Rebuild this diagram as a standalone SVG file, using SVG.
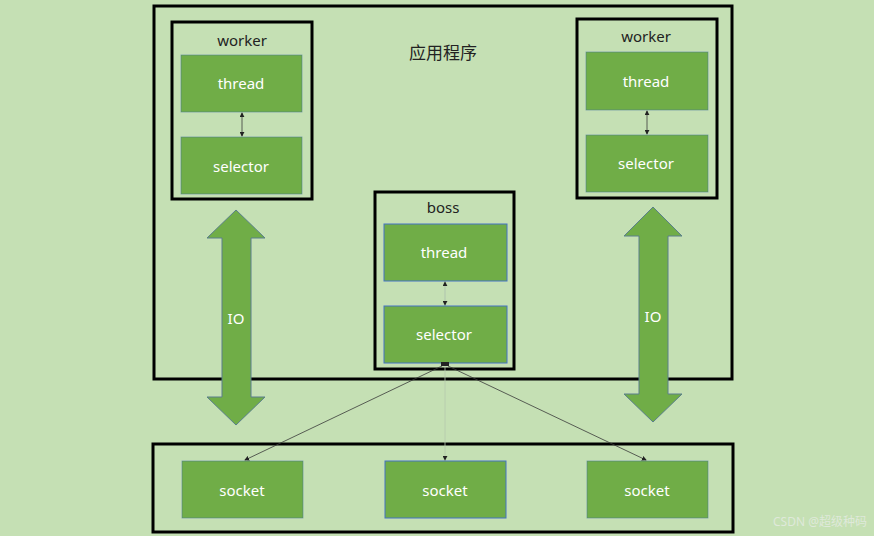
<svg xmlns="http://www.w3.org/2000/svg" width="874" height="536" viewBox="0 0 874 536">
<style>
.frame{fill:none;stroke:#000;stroke-width:3}
.box{fill:#70AD47;stroke:#41719C;stroke-width:0.8;stroke-opacity:0.6}
.bbox{fill:#70AD47;stroke:#4472C4;stroke-width:1}
.lbl{font-family:"Noto Sans","Noto Sans CJK SC",sans-serif;font-size:15px;fill:#fff;text-anchor:middle;dominant-baseline:central}
.dlbl{font-family:"Noto Sans","Noto Sans CJK SC",sans-serif;font-size:15px;fill:#222;text-anchor:middle;dominant-baseline:central}
.io{fill:#70AD47;stroke:#5A7F8C;stroke-width:1}
.ln{stroke:#3a3a3a;stroke-width:0.8;fill:none}
</style>
<defs>
<marker id="ah" viewBox="0 0 6 6" refX="5" refY="3" markerWidth="5" markerHeight="5" orient="auto-start-reverse" markerUnits="userSpaceOnUse">
<path d="M0,0 L6,3 L0,6 Z" fill="#222"/>
</marker>
</defs>
<rect width="874" height="536" fill="#C5E0B4"/>

<g id="app">
<rect class="frame" x="154" y="6" width="578" height="373"/>
<text class="dlbl" x="443" y="52" style="font-size:17px">应用程序</text>
</g>

<g id="worker-left">
<rect class="frame" x="172" y="22" width="140" height="177"/>
<text class="dlbl" x="242" y="40">worker</text>
<rect class="box" x="181" y="55" width="121" height="57"/>
<text class="lbl" x="241" y="83">thread</text>
<rect class="box" x="181" y="137" width="121" height="57"/>
<text class="lbl" x="241" y="166">selector</text>
</g>

<g id="worker-right">
<rect class="frame" x="577" y="19" width="140" height="179"/>
<text class="dlbl" x="646" y="36">worker</text>
<rect class="box" x="586" y="52" width="122" height="58"/>
<text class="lbl" x="646" y="81">thread</text>
<rect class="box" x="586" y="135" width="122" height="57"/>
<text class="lbl" x="646" y="163">selector</text>
</g>

<g id="boss">
<rect class="frame" x="375" y="192" width="139" height="177"/>
<text class="dlbl" x="443" y="207">boss</text>
<rect class="bbox" x="384" y="224" width="123" height="57"/>
<text class="lbl" x="444" y="252">thread</text>
<rect class="bbox" x="384" y="306" width="123" height="57"/>
<text class="lbl" x="444" y="334">selector</text>
</g>

<g id="sockets">
<rect class="frame" x="153" y="444" width="580" height="88"/>
<rect class="box" x="182" y="461" width="121" height="57"/>
<text class="lbl" x="242" y="490">socket</text>
<rect class="bbox" x="385" y="461" width="121" height="57"/>
<text class="lbl" x="445" y="490">socket</text>
<rect class="box" x="587" y="461" width="121" height="57"/>
<text class="lbl" x="647" y="490">socket</text>
</g>

<g id="connectors">
<line class="ln" x1="242" y1="113" x2="242" y2="136" marker-start="url(#ah)" marker-end="url(#ah)"/>
<line class="ln" x1="647" y1="111" x2="647" y2="134" marker-start="url(#ah)" marker-end="url(#ah)"/>
<line x1="445" y1="282" x2="445" y2="305" stroke="#9aa" stroke-width="0.5" marker-start="url(#ah)" marker-end="url(#ah)"/>
<rect x="441" y="362" width="8" height="4" fill="#222"/>
<line class="ln" x1="442" y1="366" x2="245" y2="460" marker-end="url(#ah)"/>
<line x1="445" y1="366" x2="445" y2="460" stroke="#b5c9ad" stroke-width="0.8" marker-end="url(#ah)"/>
<line class="ln" x1="448" y1="366" x2="646" y2="460" marker-end="url(#ah)"/>
<g id="io-left">
<polygon class="io" points="236,210 265,238 251,238 251,397 265,397 236,425 207,397 222,397 222,238 207,238"/>
<text class="lbl" x="236" y="318">IO</text>
</g>
<g id="io-right">
<polygon class="io" points="653,207 682,236 668,236 668,394 682,394 653,422 624,394 639,394 639,236 624,236"/>
<text class="lbl" x="653" y="316">IO</text>
</g>
</g>
<text x="867" y="526" text-anchor="end" style="font-family:'Noto Sans','Noto Sans CJK SC',sans-serif;font-size:12px;fill:#dfe9da">CSDN @超级种码</text>
</svg>
